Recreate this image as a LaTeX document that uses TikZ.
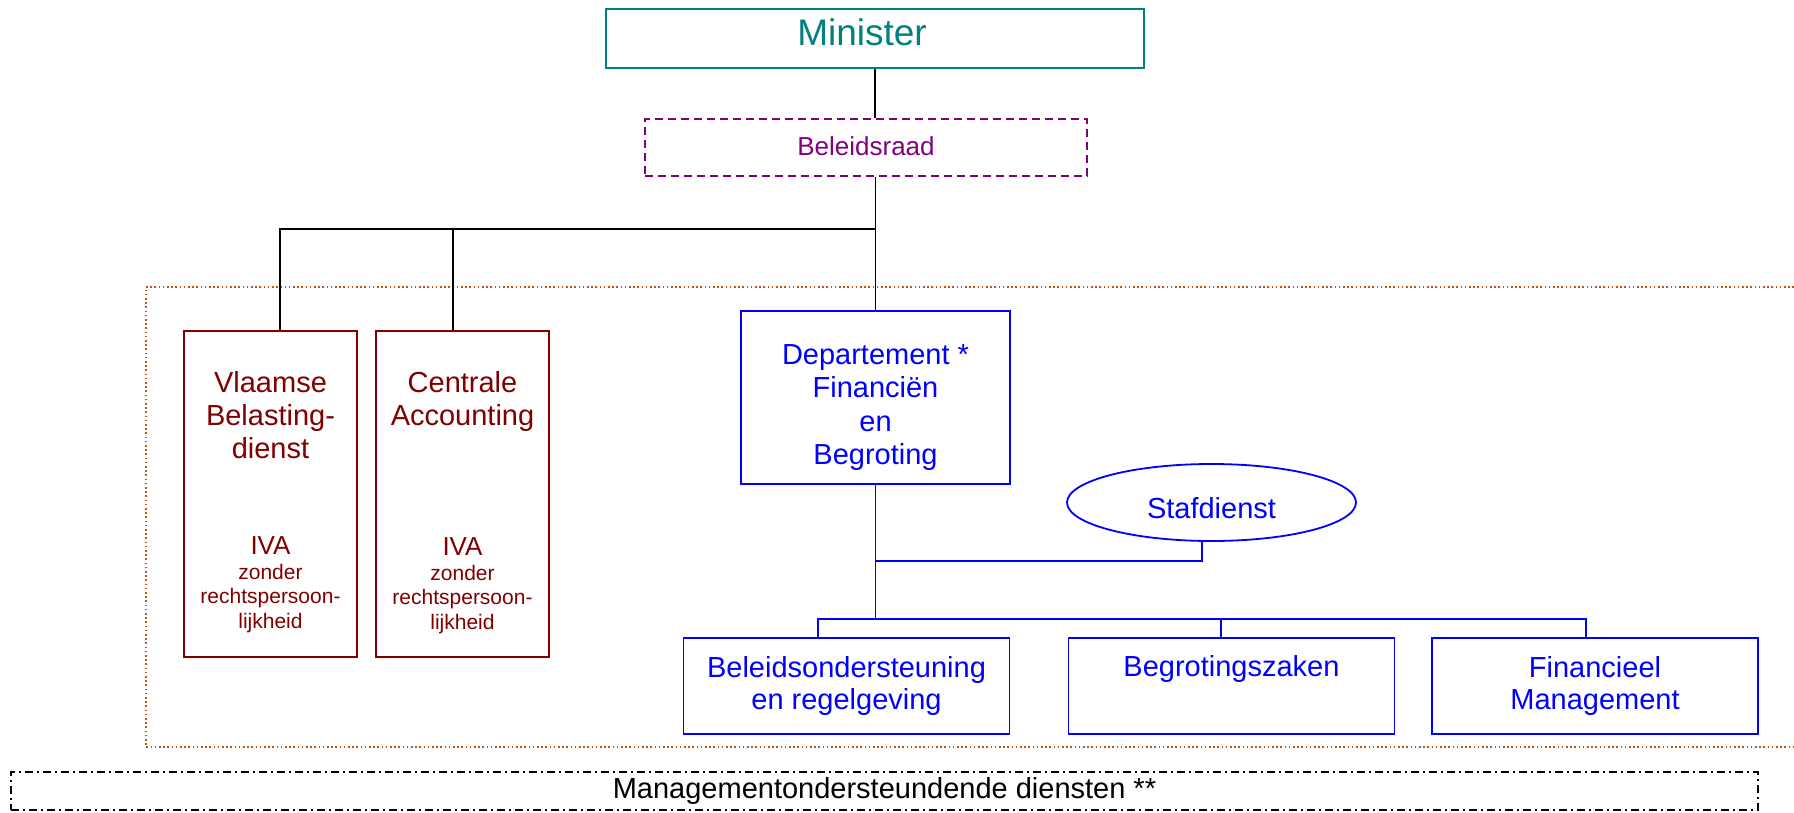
\documentclass[tikz,border=0pt]{standalone}
\usepackage{fontspec}
\setmainfont{Liberation Sans}
\usepackage{tikz}
\usetikzlibrary{shapes.geometric}
\definecolor{ministercol}{RGB}{0,128,128}
\definecolor{raadcol}{RGB}{128,0,128}
\definecolor{ivacol}{RGB}{128,0,0}
\definecolor{deptcol}{RGB}{0,0,255}
\definecolor{zonecol}{RGB}{196,84,16}
\tikzstyle{minbox} = [rectangle, minimum width=538pt, minimum
height=59pt, text centered, draw=ministercol, text=ministercol, line width=1.8pt,
font=\fontsize{37}{44}\selectfont, text height=27pt, text depth=14pt]
\tikzstyle{raadbox} = [rectangle, minimum width=442pt, minimum
height=57pt, text centered, draw=raadcol, text=raadcol, line width=1.8pt,
dash pattern=on 8pt off 5pt, font=\fontsize{26}{30}\selectfont, text height=19pt,
text depth=4pt]
\tikzstyle{ivabox} = [rectangle, minimum width=173pt, minimum
height=326pt, draw=ivacol, line width=1.8pt]
\tikzstyle{ivaname} = [anchor=north, inner sep=0pt, align=center,
text=ivacol, font=\fontsize{29}{33}\selectfont]
\tikzstyle{ivatype} = [anchor=north, inner sep=0pt, align=center,
text=ivacol, font=\fontsize{21}{24.5}\selectfont]
\tikzstyle{deptbox} = [rectangle, minimum width=269pt, minimum
height=173pt, align=center, draw=deptcol, text=deptcol, line width=1.8pt,
font=\fontsize{29}{33.5}\selectfont]
\tikzstyle{stafbox} = [ellipse, minimum width=289pt, minimum
height=77pt, draw=deptcol, text=deptcol, line width=1.8pt,
font=\fontsize{29}{33}\selectfont, text height=31pt, text depth=0pt]
\tikzstyle{unitbox} = [rectangle, minimum width=326pt, minimum
height=96pt, align=center, draw=deptcol, text=deptcol, line width=1.8pt,
font=\fontsize{29}{32}\selectfont]
\tikzstyle{mgmtbox} = [rectangle, minimum width=1747pt, minimum
height=38pt, draw=black, line width=1.5pt,
dash pattern=on 8pt off 4pt on 2pt off 4pt, font=\fontsize{29}{33}\selectfont]
\tikzstyle{link} = [line width=1.8pt, draw=black]
\tikzstyle{bluelink} = [line width=1.8pt, draw=deptcol]
\tikzstyle{zone} = [line width=1.6pt, draw=zonecol, dash pattern=on 1.6pt off 2.6pt]
\begin{document}
\begin{tikzpicture}[x=1pt, y=1pt, node distance=109pt]
\useasboundingbox (0,0) rectangle (1794,-812);

\node(minister)[minbox] at (875,-38.5){Minister\hspace*{26pt}};
\node(raad)[raadbox, below of=minister, xshift=-9pt]{Beleidsraad};
\node(dept)[deptbox, node distance=250pt, below of=raad,
xshift=9.5pt]{\rule{0pt}{39.6pt}Departement *\\Financiën\\en\\Begroting};

\node(vbd)[ivabox, node distance=605pt, left of=dept, yshift=-96.5pt]{};
\node(cacc)[ivabox, node distance=192pt, right of=vbd]{};
\node(vbdname)[ivaname] at ([yshift=-41pt]vbd.north){Vlaamse\\Belasting-\\dienst};
\node(vbdtype)[ivatype] at ([yshift=-206.5pt]vbd.north){{\fontsize{26}{30}\selectfont
IVA}\\zonder\\rechtspersoon-\\lijkheid};
\node(caccname)[ivaname] at ([yshift=-41pt]cacc.north){Centrale\\Accounting};
\node(cacctype)[ivatype] at ([yshift=-207.5pt]cacc.north){{\fontsize{26}{30}\selectfont
IVA}\\zonder\\rechtspersoon-\\lijkheid};

\node(staf)[stafbox, node distance=336pt, right of=dept, yshift=-105pt]{Stafdienst};
\node(begr)[unitbox, node distance=288.5pt, below of=dept, xshift=356pt,
text height=21pt, text depth=41pt]{Begrotingszaken};
\node(beleid)[unitbox, node distance=385pt, left of=begr]{Beleidsondersteuning\\en
regelgeving};
\node(fin)[unitbox, node distance=363.5pt, right of=begr]{Financieel\\Management};
\node(mgmt)[mgmtbox, node distance=393.5pt, below of=dept,
xshift=9pt]{Managementondersteundende diensten **};

\coordinate(topbus) at (dept.north |- 0,-229);
\coordinate(staffork) at (dept.south |- 0,-561);
\coordinate(unitbus) at (dept.south |- 0,-619);

\draw[zone](1794,-287) -- (146,-287) -- (146,-747) -- (1794,-747);

\draw[link](minister.south) -- (minister.south |- raad.north);
\draw[link](raad.south -| dept.north) -- (dept.north);
\draw[link]([xshift=9.5pt]vbd.north) |- (topbus);
\draw[link]([xshift=-9.5pt]cacc.north) -- ([xshift=-9.5pt]cacc.north |- topbus);

\draw[bluelink](dept.south) -- (unitbus);
\draw[bluelink]([xshift=-9.5pt]staf.south) |- (staffork);
\draw[bluelink]([xshift=-28.5pt]beleid.north) |- (unitbus) -| ([xshift=-9pt]fin.north);
\draw[bluelink]([xshift=-10.5pt]begr.north) -- ([xshift=-10.5pt]begr.north |- unitbus);

\end{tikzpicture}
\end{document}
